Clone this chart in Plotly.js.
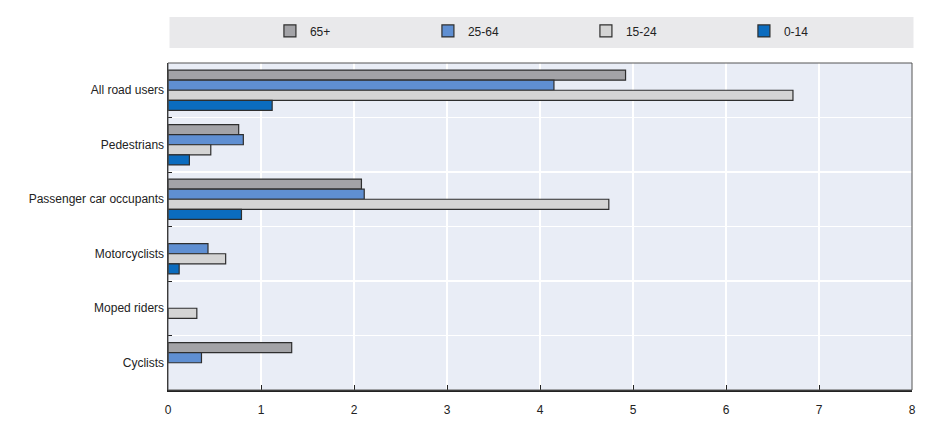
<!DOCTYPE html>
<html>
<head>
<meta charset="utf-8">
<script src="https://cdn.plot.ly/plotly-3.0.1.min.js"></script>
<style>
  html, body { margin: 0; padding: 0; background: #fff; }
  #chart { width: 936px; height: 434px; }
</style>
</head>
<body>
<div id="chart"></div>
<script>
const categories = ['All road users', 'Pedestrians', 'Passenger car occupants', 'Motorcyclists', 'Moped riders', 'Cyclists']

const age65plus = [4.92, 0.76, 2.08, null, null, 1.33]
const age25to64 = [4.15, 0.81, 2.11, 0.43, null, 0.36]
const age15to24 = [6.72, 0.46, 4.74, 0.62, 0.31, null]
const age0to14 = [1.12, 0.23, 0.79, 0.12, null, null]

const seriesNames = ['65+', '25-64', '15-24', '0-14']
const seriesColors = ['#a3a3a7', '#5f8fd2', '#d4d4d4', '#0b6cbf']

const font = "'Liberation Sans Narrow', 'Arial Narrow', 'Liberation Sans', Arial, sans-serif"

function chart() {
  const element = document.getElementById('chart')
  const plotlyData = [age65plus, age25to64, age15to24, age0to14].map((values, i) => ({
    y: categories,
    x: values,
    type: 'bar',
    orientation: 'h',
    name: seriesNames[i],
    marker: { color: seriesColors[i], line: { color: '#2e2e2e', width: 1.2 } },
    hoverinfo: 'x+name'
  }))

  const layout = {
    width: 936,
    height: 434,
    margin: { l: 168, r: 24, t: 63, b: 44 },
    paper_bgcolor: '#ffffff',
    plot_bgcolor: '#e9edf6',
    font: { family: font, size: 12, color: '#222' },
    barmode: 'group',
    bargap: 0.26,
    bargroupgap: 0,
    showlegend: true,
    legend: {
      orientation: 'h',
      x: 0.137,
      xanchor: 'left',
      y: 1.098,
      yanchor: 'middle',
      bgcolor: 'rgba(0,0,0,0)',
      entrywidth: 113,
      entrywidthmode: 'pixels',
      font: { family: font, size: 12, color: '#222' },
      traceorder: 'normal'
    },
    xaxis: {
      range: [0, 8],
      dtick: 1,
      showgrid: true,
      gridcolor: '#ffffff',
      gridwidth: 1.5,
      zeroline: false,
      showline: true,
      linecolor: '#222',
      linewidth: 1.5,
      ticks: 'inside',
      ticklen: 5,
      tickcolor: '#222',
      ticklabelstandoff: 8,
      tickfont: { family: font, size: 12, color: '#222' },
      fixedrange: true
    },
    yaxis: {
      autorange: 'reversed',
      type: 'category',
      tickson: 'boundaries',
      showgrid: true,
      gridcolor: '#ffffff',
      gridwidth: 1.5,
      showline: true,
      linecolor: '#222',
      linewidth: 1.5,
      ticks: 'inside',
      ticklen: 4,
      tickcolor: '#222',
      tickfont: { family: font, size: 12, color: '#222' },
      fixedrange: true
    },
    shapes: [
      {
        type: 'rect', xref: 'paper', yref: 'paper',
        x0: 0.002, x1: 1.002, y0: 1.046, y1: 1.141,
        fillcolor: '#e9e9eb', line: { width: 0 }, layer: 'below'
      },
      {
        type: 'rect', xref: 'paper', yref: 'paper',
        x0: 0, x1: 1, y0: 0, y1: 1,
        fillcolor: 'rgba(0,0,0,0)', line: { color: '#555', width: 1 }, layer: 'above'
      }
    ]
  }

  Plotly.newPlot(element, plotlyData, layout, { displayModeBar: false, staticPlot: true })

  return element
}

chart()
</script>
</body>
</html>
